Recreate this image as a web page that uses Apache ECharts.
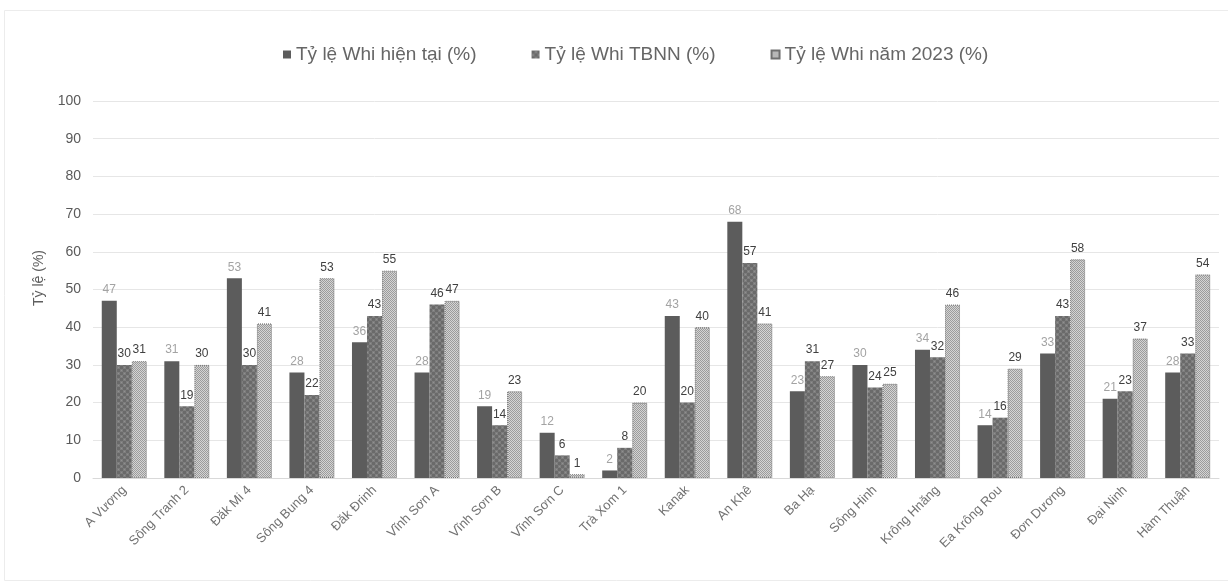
<!DOCTYPE html>
<html>
<head>
<meta charset="utf-8">
<script src="https://cdn.jsdelivr.net/npm/echarts@6/dist/echarts.min.js"></script>
<style>
  html, body { margin: 0; padding: 0; background: #ffffff; }
  #chart { width: 1228px; height: 585px; }
</style>
</head>
<body>
<div id="chart"></div>
<script>
// Hydropower reservoirs
const categories = ['A Vương', 'Sông Tranh 2', 'Đăk Mi 4', 'Sông Bung 4', 'Đăk Đrinh', 'Vĩnh Sơn A',
  'Vĩnh Sơn B', 'Vĩnh Sơn C', 'Trà Xom 1', 'Kanak', 'An Khê', 'Ba Hạ', 'Sông Hinh', 'Krông Hnăng',
  'Ea Krông Rou', 'Đơn Dương', 'Đại Ninh', 'Hàm Thuận'];

const seriesNames = ['Tỷ lệ Whi hiện tại (%)', 'Tỷ lệ Whi TBNN (%)', 'Tỷ lệ Whi năm 2023 (%)'];

const whiCurrent = [47, 31, 53, 28, 36, 28, 19, 12, 2, 43, 68, 23, 30, 34, 14, 33, 21, 28];
const whiAverage = [30, 19, 30, 22, 43, 46, 14, 6, 8, 20, 57, 31, 24, 32, 16, 43, 23, 33];
const whi2023 = [31, 30, 41, 53, 55, 47, 23, 1, 20, 40, 41, 27, 25, 46, 29, 58, 37, 54];

const yTicks = [0, 10, 20, 30, 40, 50, 60, 70, 80, 90, 100];
const yTitle = 'Tỷ lệ (%)';

// Small repeating fill textures for the bars
function makePattern(size, draw) {
  const c = document.createElement('canvas');
  c.width = size; c.height = size;
  draw(c.getContext('2d'));
  return c;
}
const mottled = makePattern(6, ctx => {
  ctx.fillStyle = '#7d7d7d'; ctx.fillRect(0, 0, 6, 6);
  ctx.fillStyle = '#6a6a6a'; ctx.fillRect(0, 0, 3, 3); ctx.fillRect(3, 3, 3, 3);
  ctx.fillStyle = '#909090'; ctx.fillRect(1, 4, 1, 1); ctx.fillRect(4, 1, 1, 1);
});
const checker = makePattern(4, ctx => {
  ctx.fillStyle = '#d4d4d4'; ctx.fillRect(0, 0, 4, 4);
  ctx.fillStyle = '#9c9c9c';
  ctx.fillRect(0, 0, 1, 1); ctx.fillRect(2, 0, 1, 1);
  ctx.fillRect(1, 1, 1, 1); ctx.fillRect(3, 1, 1, 1);
  ctx.fillRect(0, 2, 1, 1); ctx.fillRect(2, 2, 1, 1);
  ctx.fillRect(1, 3, 1, 1); ctx.fillRect(3, 3, 1, 1);
});

const font = 'Liberation Sans, Arial, sans-serif';

const chart = echarts.init(document.getElementById('chart'), null, { renderer: 'canvas' });
chart.setOption({
  backgroundColor: '#ffffff',
  animation: false,
  graphic: [
    {
      // faint frame round the chart area
      type: 'rect', silent: true,
      shape: { x: 4.5, y: 10.5, width: 1230, height: 570 },
      style: { fill: 'none', stroke: '#ececec', lineWidth: 1 }
    },
    {
      type: 'text', silent: true,
      x: 39, y: 278, rotation: Math.PI / 2,
      style: {
        text: yTitle, fontFamily: font, fontSize: 14, fill: '#5e5e5e',
        align: 'center', verticalAlign: 'middle'
      }
    }
  ],
  legend: {
    top: 40,
    left: 278,
    itemWidth: 8,
    itemHeight: 8,
    itemGap: 55,
    icon: 'rect',
    textStyle: { fontFamily: font, fontSize: 19, color: '#666666' },
    data: seriesNames
  },
  grid: { left: 93, right: 9, top: 101, bottom: 107, containLabel: false },
  xAxis: {
    type: 'category',
    data: categories,
    axisTick: { show: false },
    axisLine: { lineStyle: { color: '#d9d9d9' } },
    axisLabel: {
      rotate: 45, interval: 0, margin: 10,
      fontFamily: font, fontSize: 13, color: '#727272'
    }
  },
  yAxis: {
    type: 'value',
    min: 0, max: 100, interval: 10,
    axisLine: { show: false },
    axisTick: { show: false },
    axisLabel: {
      margin: 12, fontFamily: font, fontSize: 14, color: '#5a5a5a',
      formatter: v => (yTicks.includes(v) ? String(v) : '')
    },
    splitLine: { lineStyle: { color: '#e6e6e6' } }
  },
  series: [
    {
      name: seriesNames[0], type: 'bar', data: whiCurrent,
      barGap: '0%', barCategoryGap: '28%',
      itemStyle: { color: '#5c5c5c' },
      label: { show: true, position: 'top', distance: 5, fontFamily: font, fontSize: 12, color: '#a3a3a3' }
    },
    {
      name: seriesNames[1], type: 'bar', data: whiAverage,
      barGap: '0%', barCategoryGap: '28%',
      itemStyle: { color: { image: mottled, repeat: 'repeat' } },
      label: { show: true, position: 'top', distance: 5, fontFamily: font, fontSize: 12, color: '#404040' }
    },
    {
      name: seriesNames[2], type: 'bar', data: whi2023,
      barGap: '0%', barCategoryGap: '28%',
      itemStyle: { color: { image: checker, repeat: 'repeat' }, borderColor: '#707070', borderWidth: 1, borderType: 'dotted' },
      label: { show: true, position: 'top', distance: 5, fontFamily: font, fontSize: 12, color: '#404040' }
    }
  ]
});
</script>
</body>
</html>
